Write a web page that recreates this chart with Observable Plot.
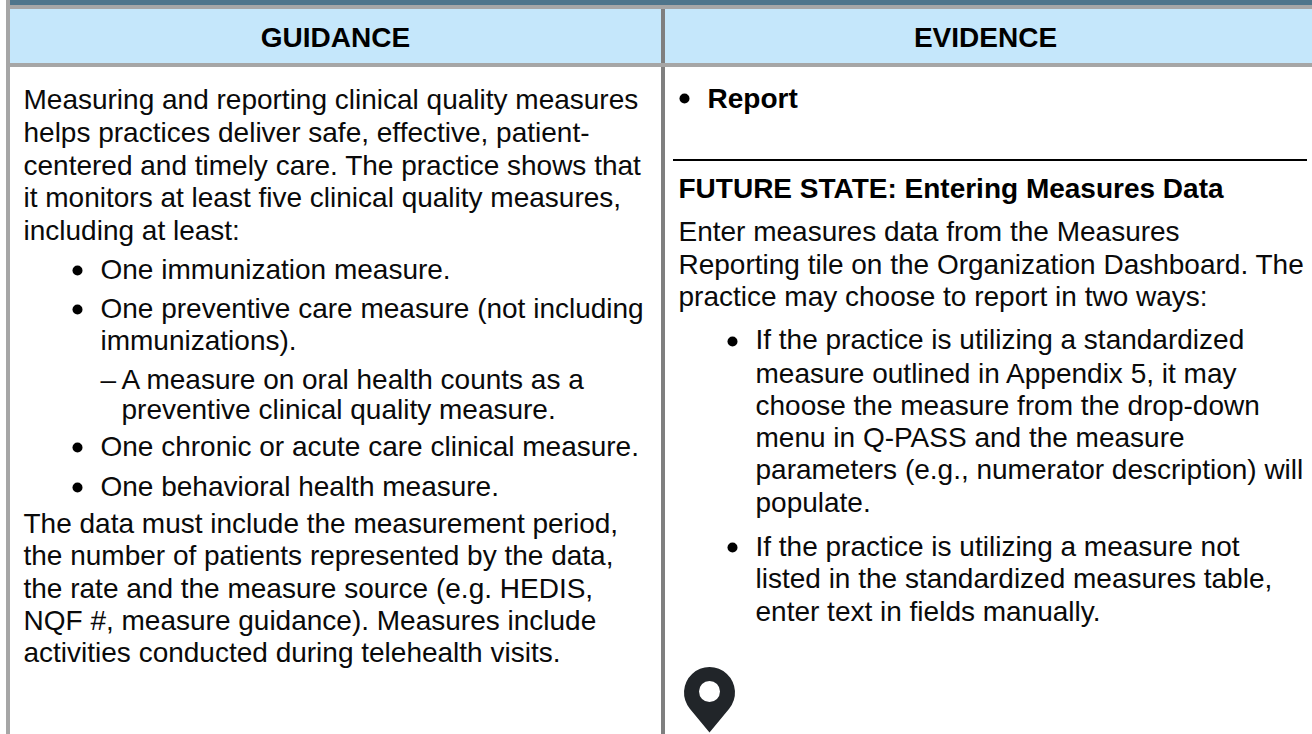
<!DOCTYPE html>
<html><head><meta charset="utf-8">
<script src="https://cdn.jsdelivr.net/npm/d3@7"></script>
<script src="https://cdn.jsdelivr.net/npm/@observablehq/plot@0.6"></script>
<style>html,body{margin:0;padding:0;background:#fff}svg{display:block}</style>
</head><body><div id="c"></div>
<script>
const headers = ["GUIDANCE", "EVIDENCE"];
const guidanceBody = [
 "Measuring and reporting clinical quality measures",
 "helps practices deliver safe, effective, patient-",
 "centered and timely care. The practice shows that",
 "it monitors at least five clinical quality measures,",
 "including at least:"];
const guidanceBullets = ["One immunization measure.","One preventive care measure (not including","immunizations)."];
const guidanceSub = ["A measure on oral health counts as a","preventive clinical quality measure."];
const guidanceBullets2 = ["One chronic or acute care clinical measure.","One behavioral health measure."];
const guidanceEnd = [
 "The data must include the measurement period,",
 "the number of patients represented by the data,",
 "the rate and the measure source (e.g. HEDIS,",
 "NQF #, measure guidance). Measures include",
 "activities conducted during telehealth visits."];
const evidenceLines = [
 "Enter measures data from the Measures",
 "Reporting tile on the Organization Dashboard. The",
 "practice may choose to report in two ways:"];
const evidenceB1 = ["If the practice is utilizing a standardized","measure outlined in Appendix 5, it may","choose the measure from the drop-down","menu in Q-PASS and the measure","parameters (e.g., numerator description) will","populate."];
const evidenceB2 = ["If the practice is utilizing a measure not","listed in the standardized measures table,","enter text in fields manually."];

const T=[], B=[];
const block=(lines,x,ys,out=T)=>lines.forEach((t,i)=>out.push({t,x,y:ys[i]}));
block(guidanceBody,23,[108,141,174,206,239]);
block(guidanceBullets,100,[278,317,349]);
block(["–"],100,[388]);
block(guidanceSub,121,[388,418]);
block(guidanceBullets2,100,[455,495]);
block(guidanceEnd,23,[532,564,597,629,661]);
block(["Report"],707,[107],B);
block(["FUTURE STATE: Entering Measures Data"],678,[197],B);
block(evidenceLines,678,[240,273,305]);
block(evidenceB1,755,[348,382,414,446,478,511]);
block(evidenceB2,755,[555,587,620]);
const bullets=[[77,270],[77,309],[77,447],[77,487],[684,98],[732,341],[732,547]].map(([x,y])=>({x,y}));
const rects=[
 {x1:10,x2:1312,y1:0,y2:5,fill:"#4f758b"},
 {x1:10,x2:1312,y1:9,y2:63,fill:"#c5e7fb"},
 {x1:661,x2:665,y1:9,y2:734,fill:"#7f7f7f"},
 {x1:10,x2:1312,y1:5,y2:9,fill:"#a6a6a6"},
 {x1:6,x2:1312,y1:63,y2:67,fill:"#a6a6a6"},
 {x1:6,x2:10,y1:0,y2:734,fill:"#a6a6a6"},
 {x1:673,x2:1307,y1:159,y2:161,fill:"#000000"}];
const pinSymbol={draw(ctx,size){
 const R=Math.sqrt(size/Math.PI), tip=1.57*R, a=Math.acos(R/tip);
 ctx.moveTo(0,tip);
 ctx.arc(0,0,R,Math.PI/2+a,Math.PI/2-a+2*Math.PI,false);
 ctx.closePath();
}};
const pin=[{x:709,y:692}];
const fs=28;
const plot=Plot.plot({width:1312,height:734,margin:0,
 x:{domain:[0,1312],range:[0,1312],axis:null},
 y:{domain:[0,734],range:[0,734],axis:null},
 style:{fontFamily:"Liberation Sans, Arial, sans-serif",background:"#fff"},
 marks:[
  Plot.rectX(rects,{x1:"x1",x2:"x2",y1:"y1",y2:"y2",fill:d=>d.fill}),
  Plot.text(headers,{x:[335,985],y:[46,46],text:d=>d,fontSize:fs,fontWeight:"bold",fill:"#000",lineAnchor:"bottom"}),
  Plot.text(T,{x:"x",y:"y",text:"t",textAnchor:"start",fontSize:fs,fill:"#0a0a0a",lineAnchor:"bottom"}),
  Plot.text(B,{x:"x",y:"y",text:"t",textAnchor:"start",fontSize:fs,fontWeight:"bold",fill:"#000",lineAnchor:"bottom"}),
  Plot.dot(bullets,{x:"x",y:"y",r:5,fill:"#000"}),
  Plot.dot(pin,{x:"x",y:"y",r:25.5,symbol:pinSymbol,fill:"#212529"}),
  Plot.dot(pin,{x:"x",y:d=>d.y-1,r:10.5,fill:"#fff"})
 ]});
document.getElementById("c").append(plot);
</script></body></html>
